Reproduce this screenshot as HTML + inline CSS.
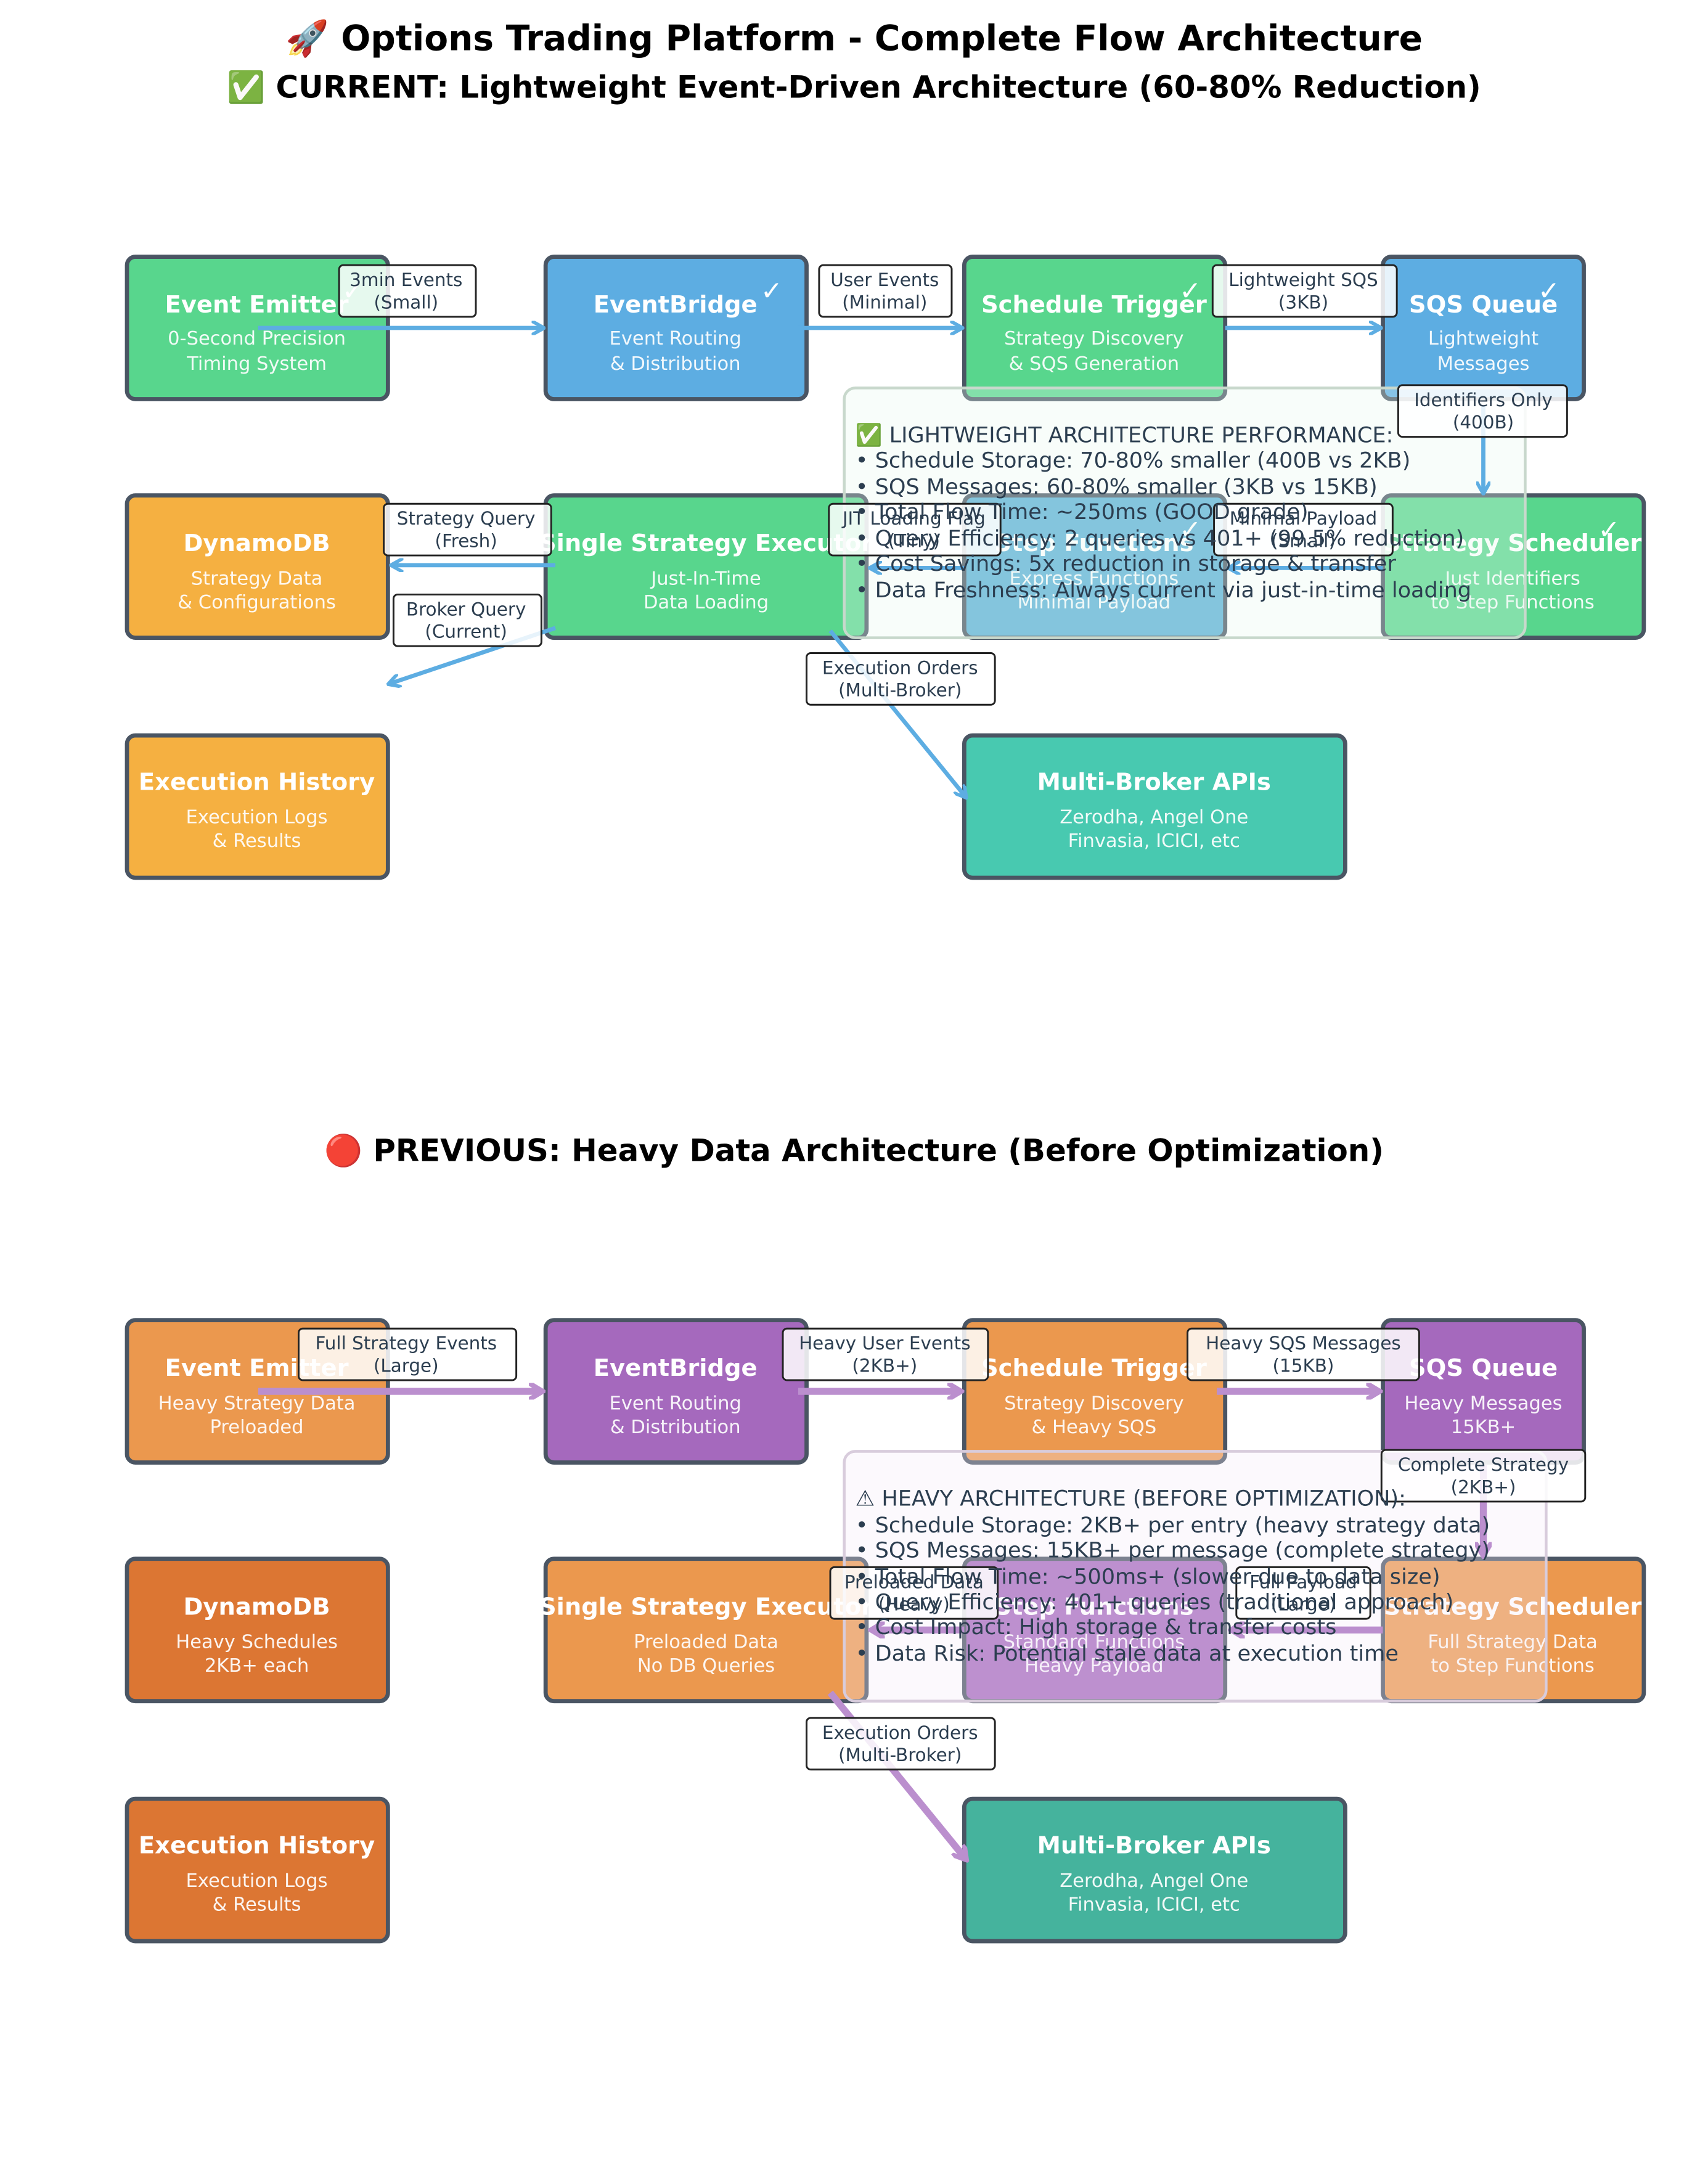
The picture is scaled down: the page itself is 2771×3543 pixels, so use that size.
<!DOCTYPE html>
<html><head><meta charset="utf-8"><style>
html,body{margin:0;padding:0;background:#fff}
svg{display:block}
text{font-family:"DejaVu Sans","Liberation Sans",sans-serif}
.t{fill:#fff;font-weight:bold;font-size:17px;text-anchor:middle}
.s{fill:#fff;font-size:13.5px;text-anchor:middle;opacity:.92}
.ck{fill:#fff;font-size:19px;text-anchor:middle}
.lb{font-size:13px;fill:#2c3e50;text-anchor:middle}
.pt{font-size:15.5px;fill:#2c3e50}
</style></head><body>
<svg width="2771" height="3543" viewBox="0 0 1224 1565" xmlns="http://www.w3.org/2000/svg">
<defs>
<marker id="ab" markerWidth="10" markerHeight="10" refX="8" refY="5" orient="auto" markerUnits="userSpaceOnUse"><path d="M0,0 L9,5 L0,10" fill="none" stroke="#5dade2" stroke-width="2.5"/></marker>
<marker id="ap" markerWidth="12" markerHeight="12" refX="9" refY="6" orient="auto" markerUnits="userSpaceOnUse"><path d="M0,0 L10,6 L0,12" fill="none" stroke="#bb8fce" stroke-width="3.5"/></marker>
</defs>
<text x="612" y="36" text-anchor="middle" font-size="25" font-weight="bold" fill="#000">🚀 Options Trading Platform - Complete Flow Architecture</text>
<text x="612" y="70" text-anchor="middle" font-size="22" font-weight="bold" fill="#000">✅ CURRENT: Lightweight Event-Driven Architecture (60-80% Reduction)</text>
<text x="612" y="832" text-anchor="middle" font-size="22" font-weight="bold" fill="#000">🔴 PREVIOUS: Heavy Data Architecture (Before Optimization)</text>

<g stroke="#4a5563" stroke-width="3">
<rect x="91" y="184" width="187" height="102" rx="6" fill="#58d68d"/>
<rect x="391" y="184" width="187" height="102" rx="6" fill="#5dade2"/>
<rect x="691" y="184" width="187" height="102" rx="6" fill="#58d68d"/>
<rect x="991" y="184" width="144" height="102" rx="6" fill="#5dade2"/>
<rect x="91" y="355" width="187" height="102" rx="6" fill="#f5b041"/>
<rect x="391" y="355" width="230" height="102" rx="6" fill="#58d68d"/>
<rect x="691" y="355" width="187" height="102" rx="6" fill="#5aafd6"/>
<rect x="991" y="355" width="187" height="102" rx="6" fill="#58d68d"/>
<rect x="91" y="527" width="187" height="102" rx="6" fill="#f5b041"/>
<rect x="691" y="527" width="273" height="102" rx="6" fill="#48c9b0"/>
<rect x="91" y="946" width="187" height="102" rx="6" fill="#eb984e"/>
<rect x="391" y="946" width="187" height="102" rx="6" fill="#a569bd"/>
<rect x="691" y="946" width="187" height="102" rx="6" fill="#eb984e"/>
<rect x="991" y="946" width="144" height="102" rx="6" fill="#a569bd"/>
<rect x="91" y="1117" width="187" height="102" rx="6" fill="#dc7633"/>
<rect x="391" y="1117" width="230" height="102" rx="6" fill="#eb984e"/>
<rect x="691" y="1117" width="187" height="102" rx="6" fill="#a569bd"/>
<rect x="991" y="1117" width="187" height="102" rx="6" fill="#eb984e"/>
<rect x="91" y="1289" width="187" height="102" rx="6" fill="#dc7633"/>
<rect x="691" y="1289" width="273" height="102" rx="6" fill="#45b39d"/>
</g>

<g>
<text class="t" x="184" y="224">Event Emitter</text><text class="s" x="184" y="247">0-Second Precision</text><text class="s" x="184" y="265">Timing System</text>
<text class="t" x="484" y="224">EventBridge</text><text class="s" x="484" y="247">Event Routing</text><text class="s" x="484" y="265">&amp; Distribution</text>
<text class="t" x="784" y="224">Schedule Trigger</text><text class="s" x="784" y="247">Strategy Discovery</text><text class="s" x="784" y="265">&amp; SQS Generation</text>
<text class="t" x="1063" y="224">SQS Queue</text><text class="s" x="1063" y="247">Lightweight</text><text class="s" x="1063" y="265">Messages</text>
<text class="t" x="184" y="395">DynamoDB</text><text class="s" x="184" y="419">Strategy Data</text><text class="s" x="184" y="436">&amp; Configurations</text>
<text class="t" x="506" y="395">Single Strategy Executor</text><text class="s" x="506" y="419">Just-In-Time</text><text class="s" x="506" y="436">Data Loading</text>
<text class="t" x="784" y="395">Step Functions</text><text class="s" x="784" y="419">Express Functions</text><text class="s" x="784" y="436">Minimal Payload</text>
<text class="t" x="1084" y="395">Strategy Scheduler</text><text class="s" x="1084" y="419">Just Identifiers</text><text class="s" x="1084" y="436">to Step Functions</text>
<text class="t" x="184" y="566">Execution History</text><text class="s" x="184" y="590">Execution Logs</text><text class="s" x="184" y="607">&amp; Results</text>
<text class="t" x="827" y="566">Multi-Broker APIs</text><text class="s" x="827" y="590">Zerodha, Angel One</text><text class="s" x="827" y="607">Finvasia, ICICI, etc</text>
<text class="ck" x="253" y="215">✓</text><text class="ck" x="553" y="215">✓</text><text class="ck" x="853" y="215">✓</text><text class="ck" x="1110" y="215">✓</text>
<text class="ck" x="853" y="386">✓</text><text class="ck" x="1153" y="386">✓</text>

<text class="t" x="184" y="986">Event Emitter</text><text class="s" x="184" y="1010">Heavy Strategy Data</text><text class="s" x="184" y="1027">Preloaded</text>
<text class="t" x="484" y="986">EventBridge</text><text class="s" x="484" y="1010">Event Routing</text><text class="s" x="484" y="1027">&amp; Distribution</text>
<text class="t" x="784" y="986">Schedule Trigger</text><text class="s" x="784" y="1010">Strategy Discovery</text><text class="s" x="784" y="1027">&amp; Heavy SQS</text>
<text class="t" x="1063" y="986">SQS Queue</text><text class="s" x="1063" y="1010">Heavy Messages</text><text class="s" x="1063" y="1027">15KB+</text>
<text class="t" x="184" y="1157">DynamoDB</text><text class="s" x="184" y="1181">Heavy Schedules</text><text class="s" x="184" y="1198">2KB+ each</text>
<text class="t" x="506" y="1157">Single Strategy Executor</text><text class="s" x="506" y="1181">Preloaded Data</text><text class="s" x="506" y="1198">No DB Queries</text>
<text class="t" x="784" y="1157">Step Functions</text><text class="s" x="784" y="1181">Standard Functions</text><text class="s" x="784" y="1198">Heavy Payload</text>
<text class="t" x="1084" y="1157">Strategy Scheduler</text><text class="s" x="1084" y="1181">Full Strategy Data</text><text class="s" x="1084" y="1198">to Step Functions</text>
<text class="t" x="184" y="1328">Execution History</text><text class="s" x="184" y="1352">Execution Logs</text><text class="s" x="184" y="1369">&amp; Results</text>
<text class="t" x="827" y="1328">Multi-Broker APIs</text><text class="s" x="827" y="1352">Zerodha, Angel One</text><text class="s" x="827" y="1369">Finvasia, ICICI, etc</text>
</g>

<rect x="0" y="370" width="89" height="40" fill="#fff"/>
<rect x="1180" y="370" width="44" height="40" fill="#fff"/>
<rect x="0" y="1132" width="89" height="40" fill="#fff"/>
<rect x="1180" y="1132" width="44" height="40" fill="#fff"/>

<rect x="605" y="278" width="488" height="179" rx="8" fill="#e8f8ee" fill-opacity=".3" stroke="#c8d8cc" stroke-width="2"/>
<rect x="605" y="1040" width="503" height="179" rx="8" fill="#f4ecf7" fill-opacity=".3" stroke="#d8ccdc" stroke-width="2"/>

<g stroke="#5dade2" stroke-width="3" fill="none" marker-end="url(#ab)">
<line x1="185" y1="235" x2="389" y2="235"/>
<line x1="572" y1="235" x2="689" y2="235"/>
<line x1="878" y1="235" x2="989" y2="235"/>
<line x1="1063" y1="290" x2="1063" y2="353"/>
<line x1="991" y1="407" x2="881" y2="407"/>
<line x1="691" y1="407" x2="624" y2="407"/>
<line x1="398" y1="405" x2="281" y2="405"/>
<line x1="398" y1="450" x2="279" y2="490"/>
<line x1="595" y1="452" x2="692" y2="571"/>
</g>
<g stroke="#bb8fce" stroke-width="5" fill="none" marker-end="url(#ap)">
<line x1="185" y1="997" x2="388" y2="997"/>
<line x1="572" y1="997" x2="688" y2="997"/>
<line x1="872" y1="997" x2="988" y2="997"/>
<line x1="1063" y1="1050" x2="1063" y2="1114"/>
<line x1="991" y1="1168" x2="883" y2="1168"/>
<line x1="691" y1="1168" x2="625" y2="1168"/>
<line x1="595" y1="1213" x2="692" y2="1332"/>
</g>

<g stroke="#222" stroke-width="1.3" fill="#fff" fill-opacity=".85">
<rect x="243" y="190" width="98" height="37" rx="3"/>
<rect x="587" y="190" width="95" height="37" rx="3"/>
<rect x="869" y="190" width="132" height="37" rx="3"/>
<rect x="1002" y="276" width="121" height="37" rx="3"/>
<rect x="275" y="361" width="120" height="37" rx="3"/>
<rect x="282" y="426" width="106" height="37" rx="3"/>
<rect x="594" y="361" width="123" height="37" rx="3"/>
<rect x="870" y="361" width="128" height="37" rx="3"/>
<rect x="578" y="468" width="135" height="37" rx="3"/>
<rect x="214" y="952" width="156" height="37" rx="3"/>
<rect x="561" y="952" width="147" height="37" rx="3"/>
<rect x="851" y="952" width="166" height="37" rx="3"/>
<rect x="990" y="1039" width="146" height="37" rx="3"/>
<rect x="595" y="1123" width="120" height="37" rx="3"/>
<rect x="886" y="1123" width="96" height="37" rx="3"/>
<rect x="578" y="1231" width="135" height="37" rx="3"/>
</g>
<g>
<text class="lb" x="291" y="205">3min Events</text><text class="lb" x="291" y="221">(Small)</text>
<text class="lb" x="634" y="205">User Events</text><text class="lb" x="634" y="221">(Minimal)</text>
<text class="lb" x="934" y="205">Lightweight SQS</text><text class="lb" x="934" y="221">(3KB)</text>
<text class="lb" x="1063" y="291">Identifiers Only</text><text class="lb" x="1063" y="307">(400B)</text>
<text class="lb" x="334" y="376">Strategy Query</text><text class="lb" x="334" y="392">(Fresh)</text>
<text class="lb" x="334" y="441">Broker Query</text><text class="lb" x="334" y="457">(Current)</text>
<text class="lb" x="655" y="376">JIT Loading Flag</text><text class="lb" x="655" y="392">(Tiny)</text>
<text class="lb" x="934" y="376">Minimal Payload</text><text class="lb" x="934" y="392">(Small)</text>
<text class="lb" x="645" y="483">Execution Orders</text><text class="lb" x="645" y="499">(Multi-Broker)</text>
<text class="lb" x="291" y="967">Full Strategy Events</text><text class="lb" x="291" y="983">(Large)</text>
<text class="lb" x="634" y="967">Heavy User Events</text><text class="lb" x="634" y="983">(2KB+)</text>
<text class="lb" x="934" y="967">Heavy SQS Messages</text><text class="lb" x="934" y="983">(15KB)</text>
<text class="lb" x="1063" y="1054">Complete Strategy</text><text class="lb" x="1063" y="1070">(2KB+)</text>
<text class="lb" x="655" y="1138">Preloaded Data</text><text class="lb" x="655" y="1154">(Heavy)</text>
<text class="lb" x="934" y="1138">Full Payload</text><text class="lb" x="934" y="1154">(Large)</text>
<text class="lb" x="645" y="1246">Execution Orders</text><text class="lb" x="645" y="1262">(Multi-Broker)</text>
</g>

<g>
<text class="pt" x="613" y="317">✅ LIGHTWEIGHT ARCHITECTURE PERFORMANCE:</text>
<text class="pt" x="613" y="335">• Schedule Storage: 70-80% smaller (400B vs 2KB)</text>
<text class="pt" x="613" y="354">• SQS Messages: 60-80% smaller (3KB vs 15KB)</text>
<text class="pt" x="613" y="372">• Total Flow Time: ~250ms (GOOD grade)</text>
<text class="pt" x="613" y="391">• Query Efficiency: 2 queries vs 401+ (99.5% reduction)</text>
<text class="pt" x="613" y="409">• Cost Savings: 5x reduction in storage &amp; transfer</text>
<text class="pt" x="613" y="428">• Data Freshness: Always current via just-in-time loading</text>
<text class="pt" x="613" y="1079">⚠ HEAVY ARCHITECTURE (BEFORE OPTIMIZATION):</text>
<text class="pt" x="613" y="1098">• Schedule Storage: 2KB+ per entry (heavy strategy data)</text>
<text class="pt" x="613" y="1116">• SQS Messages: 15KB+ per message (complete strategy)</text>
<text class="pt" x="613" y="1135">• Total Flow Time: ~500ms+ (slower due to data size)</text>
<text class="pt" x="613" y="1153">• Query Efficiency: 401+ queries (traditional approach)</text>
<text class="pt" x="613" y="1171">• Cost Impact: High storage &amp; transfer costs</text>
<text class="pt" x="613" y="1190">• Data Risk: Potential stale data at execution time</text>
</g>
</svg>
</body></html>
